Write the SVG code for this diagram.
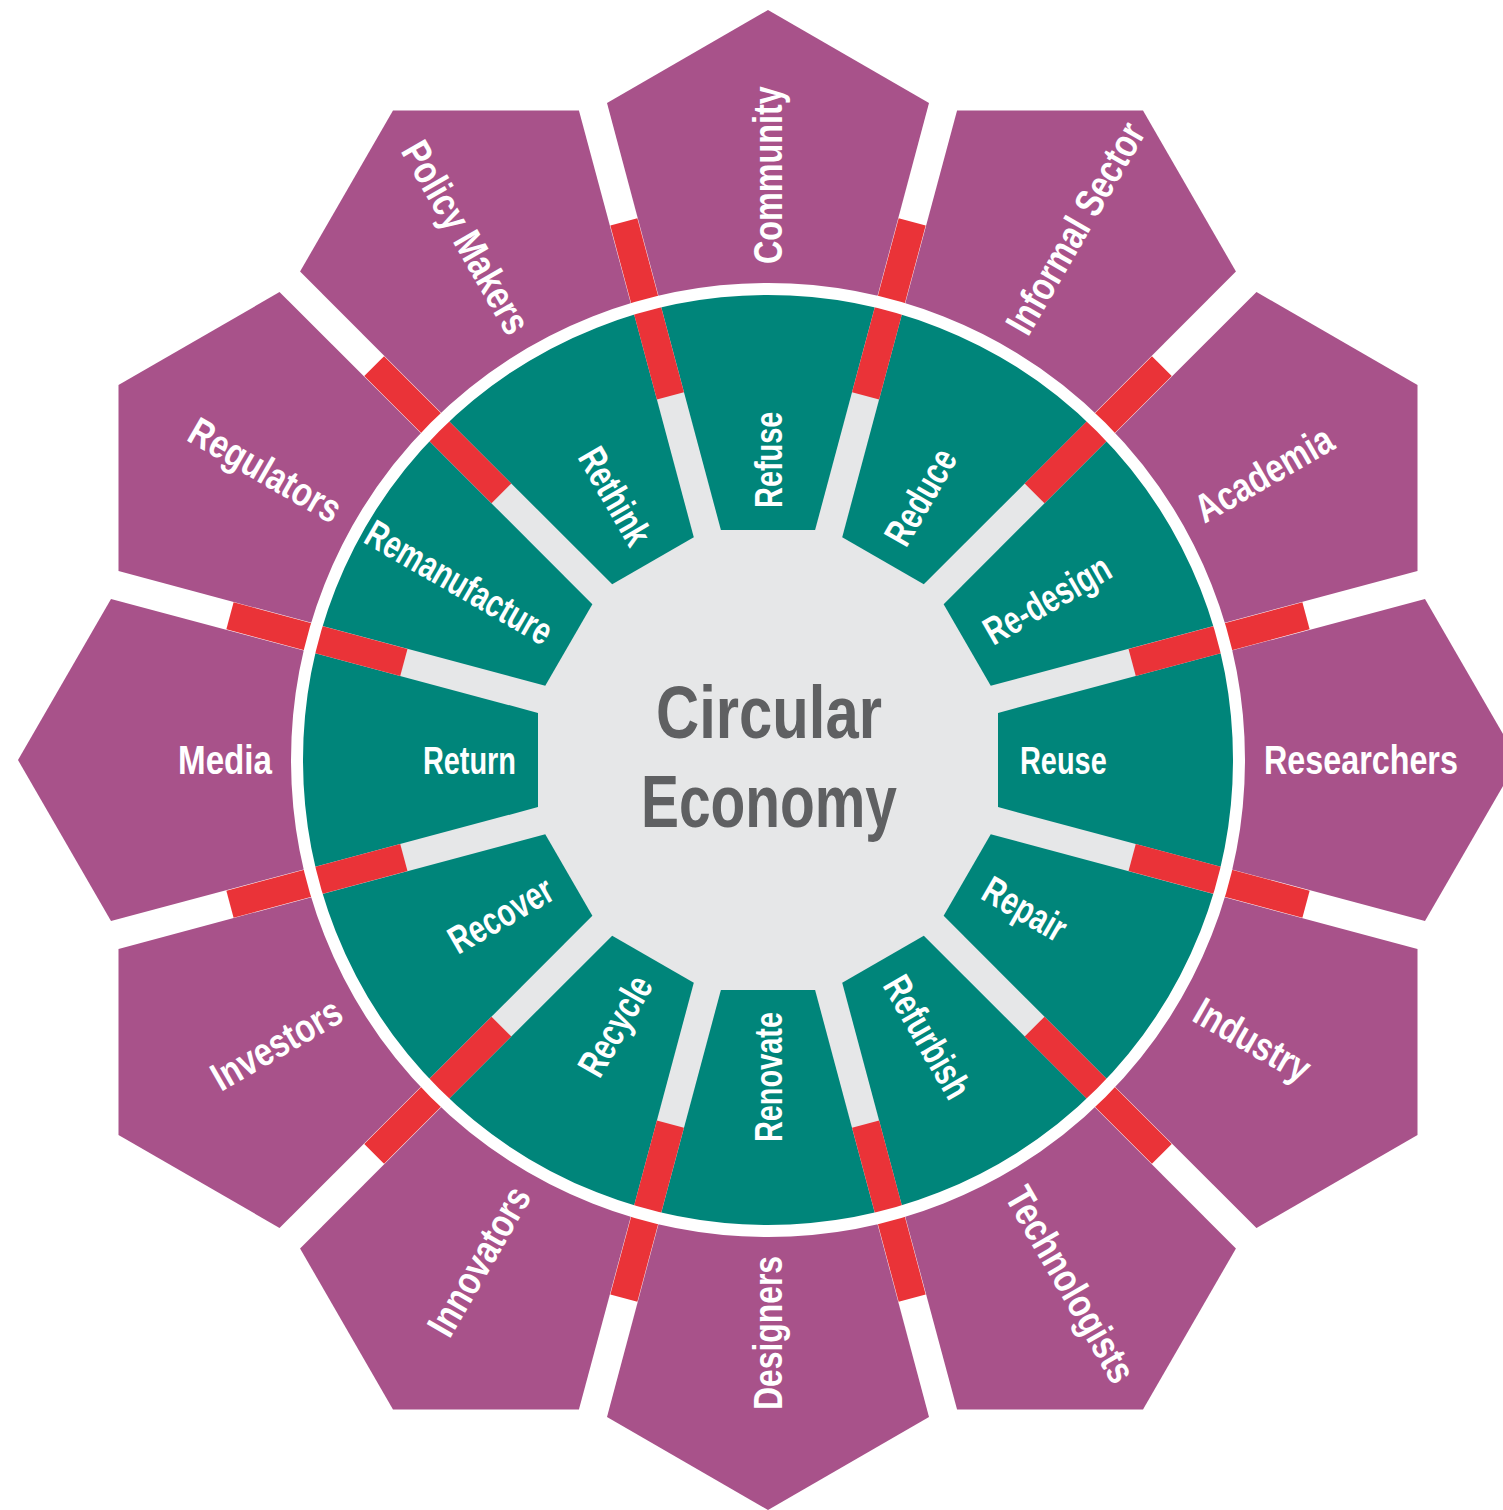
<svg xmlns="http://www.w3.org/2000/svg" width="1503" height="1510" viewBox="0 0 1503 1510">
<style>
.stk{fill:#A8528A}
.seg{fill:#00857A}
.red{fill:#EA3338}
.lbl{font-family:"Liberation Sans Narrow","Liberation Sans",Arial,sans-serif;font-weight:bold;fill:#FFFFFF}
.s{font-size:39px}
.k{font-size:40px}
.in{text-anchor:end}
.ctr{font-family:"Liberation Sans Narrow","Liberation Sans",Arial,sans-serif;font-weight:bold;font-size:75px;fill:#5F6062;text-anchor:middle}
</style>
<defs>
<polygon id="petal" points="54,0 657,-161 750,0 657,161"/>
<path id="wedge" d="M230,-47.1 L458.4,-108.3 A471,471 0 0 1 458.4,108.3 L230,47.1 Z"/>
</defs>
<rect width="1503" height="1510" fill="#FFFFFF"/>
<g transform="translate(768,760)">
  <g id="stakeholders">
    <g id="community" transform="rotate(270)"><use href="#petal" class="stk"/><text class="lbl k" x="496" y="14" textLength="177.7" lengthAdjust="spacingAndGlyphs">Community</text></g>
    <g id="informal-sector" transform="rotate(300)"><use href="#petal" class="stk"/><text class="lbl k" x="496" y="14" textLength="236.9" lengthAdjust="spacingAndGlyphs">Informal Sector</text></g>
    <g id="academia" transform="rotate(330)"><use href="#petal" class="stk"/><text class="lbl k" x="496" y="14" textLength="152.6" lengthAdjust="spacingAndGlyphs">Academia</text></g>
    <g id="researchers" transform="rotate(0)"><use href="#petal" class="stk"/><text class="lbl k" x="496" y="14" textLength="193.9" lengthAdjust="spacingAndGlyphs">Researchers</text></g>
    <g id="industry" transform="rotate(30)"><use href="#petal" class="stk"/><text class="lbl k" x="496" y="14" textLength="127.4" lengthAdjust="spacingAndGlyphs">Industry</text></g>
    <g id="technologists" transform="rotate(60)"><use href="#petal" class="stk"/><text class="lbl k" x="496" y="14" textLength="219" lengthAdjust="spacingAndGlyphs">Technologists</text></g>
    <g id="designers" transform="rotate(90)"><use href="#petal" class="stk"/><text class="lbl k in" transform="rotate(180)" x="-496" y="14" textLength="154" lengthAdjust="spacingAndGlyphs">Designers</text></g>
    <g id="innovators" transform="rotate(120)"><use href="#petal" class="stk"/><text class="lbl k in" transform="rotate(180)" x="-496" y="14" textLength="165.1" lengthAdjust="spacingAndGlyphs">Innovators</text></g>
    <g id="investors" transform="rotate(150)"><use href="#petal" class="stk"/><text class="lbl k in" transform="rotate(180)" x="-496" y="14" textLength="143.6" lengthAdjust="spacingAndGlyphs">Investors</text></g>
    <g id="media" transform="rotate(180)"><use href="#petal" class="stk"/><text class="lbl k in" transform="rotate(180)" x="-496" y="14" textLength="94" lengthAdjust="spacingAndGlyphs">Media</text></g>
    <g id="regulators" transform="rotate(210)"><use href="#petal" class="stk"/><text class="lbl k in" transform="rotate(180)" x="-496" y="14" textLength="168.7" lengthAdjust="spacingAndGlyphs">Regulators</text></g>
    <g id="policy-makers" transform="rotate(240)"><use href="#petal" class="stk"/><text class="lbl k in" transform="rotate(180)" x="-496" y="14" textLength="215.4" lengthAdjust="spacingAndGlyphs">Policy Makers</text></g>
  </g>
  <circle id="hub-disc" r="471" fill="#E6E7E8"/>
  <g id="segments">
    <g id="refuse" transform="rotate(270)"><use href="#wedge" class="seg"/><text class="lbl s" x="252" y="14" textLength="96.4" lengthAdjust="spacingAndGlyphs">Refuse</text></g>
    <g id="reduce" transform="rotate(300)"><use href="#wedge" class="seg"/><text class="lbl s" x="252" y="14" textLength="104.4" lengthAdjust="spacingAndGlyphs">Reduce</text></g>
    <g id="re-design" transform="rotate(330)"><use href="#wedge" class="seg"/><text class="lbl s" x="252" y="14" textLength="139.7" lengthAdjust="spacingAndGlyphs">Re-design</text></g>
    <g id="reuse" transform="rotate(0)"><use href="#wedge" class="seg"/><text class="lbl s" x="252" y="14" textLength="86.7" lengthAdjust="spacingAndGlyphs">Reuse</text></g>
    <g id="repair" transform="rotate(30)"><use href="#wedge" class="seg"/><text class="lbl s" x="252" y="14" textLength="89.9" lengthAdjust="spacingAndGlyphs">Repair</text></g>
    <g id="refurbish" transform="rotate(60)"><use href="#wedge" class="seg"/><text class="lbl s" x="252" y="14" textLength="134.9" lengthAdjust="spacingAndGlyphs">Refurbish</text></g>
    <g id="renovate" transform="rotate(90)"><use href="#wedge" class="seg"/><text class="lbl s in" transform="rotate(180)" x="-252" y="14" textLength="130.1" lengthAdjust="spacingAndGlyphs">Renovate</text></g>
    <g id="recycle" transform="rotate(120)"><use href="#wedge" class="seg"/><text class="lbl s in" transform="rotate(180)" x="-252" y="14" textLength="109.2" lengthAdjust="spacingAndGlyphs">Recycle</text></g>
    <g id="recover" transform="rotate(150)"><use href="#wedge" class="seg"/><text class="lbl s in" transform="rotate(180)" x="-252" y="14" textLength="114" lengthAdjust="spacingAndGlyphs">Recover</text></g>
    <g id="return" transform="rotate(180)"><use href="#wedge" class="seg"/><text class="lbl s in" transform="rotate(180)" x="-252" y="14" textLength="93.1" lengthAdjust="spacingAndGlyphs">Return</text></g>
    <g id="remanufacture" transform="rotate(210)"><use href="#wedge" class="seg"/><text class="lbl s in" transform="rotate(180)" x="-252" y="14" textLength="208.6" lengthAdjust="spacingAndGlyphs">Remanufacture</text></g>
    <g id="rethink" transform="rotate(240)"><use href="#wedge" class="seg"/><text class="lbl s in" transform="rotate(180)" x="-252" y="14" textLength="106" lengthAdjust="spacingAndGlyphs">Rethink</text></g>
  </g>
  <g id="connectors">
    <rect class="red" x="377" y="-14" width="180" height="28" transform="rotate(15)"/>
    <rect class="red" x="377" y="-14" width="180" height="28" transform="rotate(45)"/>
    <rect class="red" x="377" y="-14" width="180" height="28" transform="rotate(75)"/>
    <rect class="red" x="377" y="-14" width="180" height="28" transform="rotate(105)"/>
    <rect class="red" x="377" y="-14" width="180" height="28" transform="rotate(135)"/>
    <rect class="red" x="377" y="-14" width="180" height="28" transform="rotate(165)"/>
    <rect class="red" x="377" y="-14" width="180" height="28" transform="rotate(195)"/>
    <rect class="red" x="377" y="-14" width="180" height="28" transform="rotate(225)"/>
    <rect class="red" x="377" y="-14" width="180" height="28" transform="rotate(255)"/>
    <rect class="red" x="377" y="-14" width="180" height="28" transform="rotate(285)"/>
    <rect class="red" x="377" y="-14" width="180" height="28" transform="rotate(315)"/>
    <rect class="red" x="377" y="-14" width="180" height="28" transform="rotate(345)"/>
  </g>
  <circle id="ring" r="471" fill="none" stroke="#FFFFFF" stroke-width="12"/>
</g>
<g id="center">
  <text class="ctr" x="769" y="738" textLength="226" lengthAdjust="spacingAndGlyphs">Circular</text>
  <text class="ctr" x="769" y="827" textLength="256" lengthAdjust="spacingAndGlyphs">Economy</text>
</g>
</svg>
